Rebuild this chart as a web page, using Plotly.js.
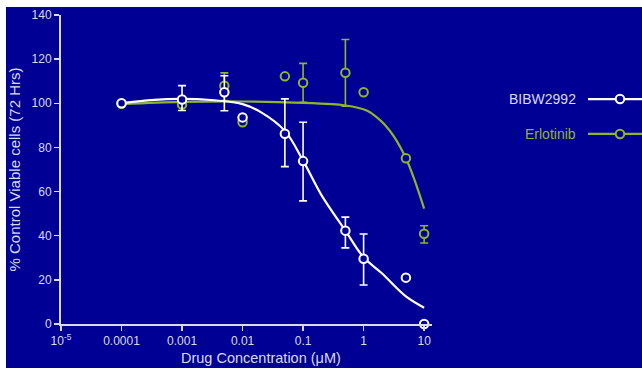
<!DOCTYPE html>
<html>
<head>
<meta charset="utf-8">
<script src="https://cdn.plot.ly/plotly-3.0.1.min.js"></script>
<style>
html, body { margin: 0; padding: 0; background: #ffffff; width: 642px; height: 368px; overflow: hidden; }
#chart { position: absolute; left: 6px; top: 7px; width: 636px; height: 361px; }
</style>
</head>
<body>
<div id="chart"></div>
<script>
// Concentrations (µM)
const conc = [0.0001, 0.001, 0.005, 0.01, 0.05, 0.1, 0.5, 1, 5, 10];

// BIBW2992 measured means and error bars (null = no bar)
const bibwMean = [100, 101.7, 105, 93.6, 86.2, 73.8, 42.3, 29.6, 21, 0];
const bibwErrUp = [null, 6.3, 7.5, null, 15.8, 17.6, 6.1, 11.2, null, null];
const bibwErrDown = [null, 5.0, 8.4, null, 14.9, 18.0, 7.8, 11.9, null, null];

// Erlotinib measured means and error bars
const erloMean = [99.8, 99.4, 108, 91.4, 112.2, 109.3, 113.8, 105, 75.1, 40.9];
const erloErrUp = [null, null, 5.8, null, null, 8.8, 15.1, null, null, 3.6];
const erloErrDown = [null, null, 6.8, null, null, 8.8, 15.1, null, null, 4.2];

// Fitted curves
const bibwFitX = [0.0001, 0.0003, 0.001, 0.003, 0.01, 0.02, 0.05, 0.1, 0.2, 0.5, 1, 2, 5, 10];
const bibwFitY = [100, 101.4, 102, 101.5, 99.6, 96, 87.5, 74, 58.5, 42.3, 30.2, 23, 12.5, 7.4];
const erloFitX = [0.0001, 0.001, 0.01, 0.1, 0.3, 0.5, 0.8, 1.15, 1.6, 2.2, 3.2, 5, 7, 10];
const erloFitY = [99.6, 100.6, 100.8, 100.2, 99.6, 99.0, 98.0, 96.6, 94.0, 90.5, 84.8, 75.1, 65, 52.3];

// Tick labels
const xTickVals = [0.00001, 0.0001, 0.001, 0.01, 0.1, 1, 10];
const xTickText = ['10<sup>-5</sup>', '0.0001', '0.001', '0.01', '0.1', '1', '10'];
const yTickVals = [0, 20, 40, 60, 80, 100, 120, 140];

const seriesNames = ['BIBW2992', 'Erlotinib'];
const xTitle = 'Drug Concentration (μM)';
const yTitle = '% Control Viable cells (72 Hrs)';

const NAVY = '#000094';
const WHITE = '#ffffff';
const GREEN = '#8fb52b';
const TXT = '#d9d9f2';
const AXIS = '#d8d8ee';
const FONT = 'Liberation Sans, Arial, sans-serif';

const toNaN = a => a.map(v => (v === null ? NaN : v));

function pointsTrace(y, up, down, color) {
  return {
    type: 'scatter', mode: 'markers', x: conc, y: y,
    cliponaxis: false, showlegend: false, hoverinfo: 'skip',
    marker: { symbol: 'circle', size: 8.5, color: NAVY, line: { color: color, width: 2 } },
    error_y: { type: 'data', symmetric: false, array: toNaN(up), arrayminus: toNaN(down),
               color: color, thickness: 1.6, width: 4 }
  };
}
function fitTrace(x, y, color) {
  return {
    type: 'scatter', mode: 'lines', x: x, y: y, cliponaxis: false,
    showlegend: false, hoverinfo: 'skip',
    line: { color: color, width: 2.2, shape: 'spline', smoothing: 1 }
  };
}

const data = [
  fitTrace(erloFitX, erloFitY, GREEN),
  pointsTrace(erloMean, erloErrUp, erloErrDown, GREEN),
  fitTrace(bibwFitX, bibwFitY, WHITE),
  pointsTrace(bibwMean, bibwErrUp, bibwErrDown, WHITE)
];

// legend (text left, symbol right) in paper coordinates
const legY = [0.728, 0.615];
const legColors = [WHITE, GREEN];
const legTextColors = [TXT, GREEN];
const annotations = [{
  xref: 'paper', yref: 'paper', x: 0.539, y: -0.11, xanchor: 'center', yanchor: 'middle',
  text: xTitle, showarrow: false, font: { family: FONT, size: 14.5, color: TXT }
}];
const shapes = [];
for (let i = 0; i < 2; i++) {
  annotations.push({
    xref: 'paper', yref: 'paper', x: 1.3935, y: legY[i], xanchor: 'right', yanchor: 'middle',
    text: seriesNames[i], showarrow: false,
    font: { family: FONT, size: 14, color: legTextColors[i] }
  });
  shapes.push({
    type: 'line', xref: 'paper', yref: 'paper', x0: 1.4205, x1: 1.57, y0: legY[i], y1: legY[i],
    line: { color: legColors[i], width: 2.2 }
  });
  shapes.push({
    type: 'circle', xref: 'paper', yref: 'paper',
    x0: 1.5067 - 0.0115, x1: 1.5067 + 0.0115, y0: legY[i] - 0.0138, y1: legY[i] + 0.0138,
    fillcolor: NAVY, line: { color: legColors[i], width: 2 }
  });
}

const layout = {
  width: 636, height: 361,
  margin: { l: 55, r: 210, t: 8, b: 44 },
  paper_bgcolor: NAVY, plot_bgcolor: NAVY,
  font: { family: FONT, color: TXT, size: 12 },
  showlegend: false,
  xaxis: {
    type: 'log', range: [-5, 1.13], autorange: false,
    tickmode: 'array', tickvals: xTickVals, ticktext: xTickText,
    showgrid: false, zeroline: false, showline: true, linecolor: AXIS, linewidth: 2,
    ticks: 'outside', ticklen: 5, tickwidth: 1.5, tickcolor: AXIS,
    tickfont: { family: FONT, size: 12, color: TXT }
  },
  yaxis: {
    range: [0, 140], autorange: false,
    tickmode: 'array', tickvals: yTickVals,
    showgrid: false, zeroline: false, showline: true, linecolor: AXIS, linewidth: 2,
    ticks: 'outside', ticklen: 5, tickwidth: 1.5, tickcolor: AXIS,
    tickfont: { family: FONT, size: 12, color: TXT },
    title: { text: yTitle, font: { family: FONT, size: 15, color: TXT }, standoff: 11 }
  },
  annotations: annotations,
  shapes: shapes
};

Plotly.newPlot('chart', data, layout, { staticPlot: true, displayModeBar: false });
</script>
</body>
</html>
